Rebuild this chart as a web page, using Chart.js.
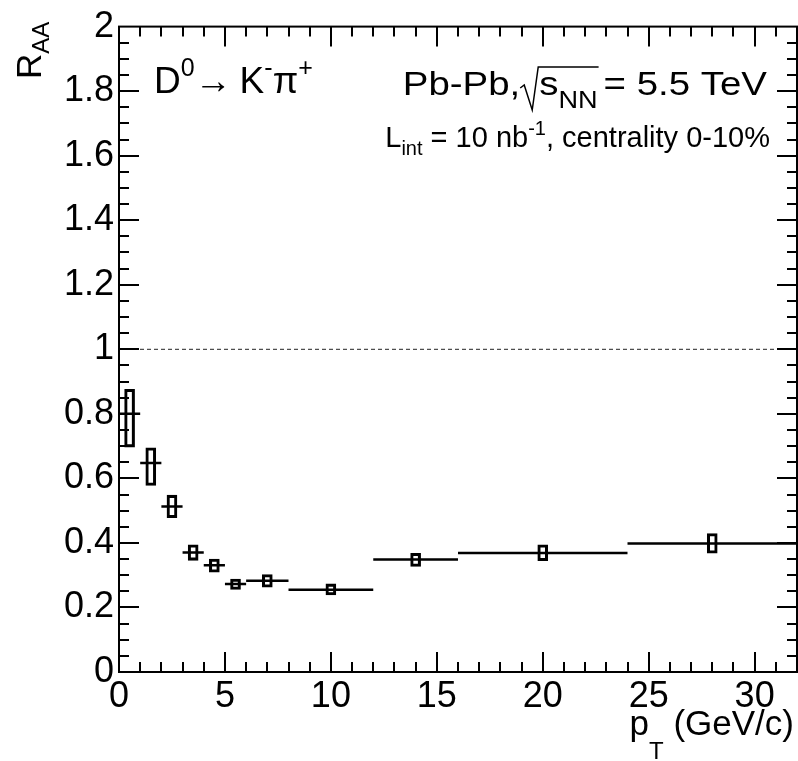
<!DOCTYPE html>
<html>
<head>
<meta charset="utf-8">
<script src="https://cdn.jsdelivr.net/npm/chart.js"></script>
<style>
  html, body { margin: 0; padding: 0; background: #fff; }
  #wrap { width: 798px; height: 761px; position: relative; }
</style>
</head>
<body>
<div id="wrap"><canvas id="raaChart"></canvas></div>
<script>
'use strict';

// D0 -> K pi, R_AA vs pT
var binLo    = [0, 1, 2, 3, 4, 5, 6, 8, 12, 16, 24];
var binHi    = [1, 2, 3, 4, 5, 6, 8, 12, 16, 24, 32];
var ptCenter = [0.5, 1.5, 2.5, 3.5, 4.5, 5.5, 7, 10, 14, 20, 28];
var raa      = [0.80, 0.648, 0.513, 0.370, 0.331, 0.273, 0.283, 0.255, 0.349, 0.369, 0.398];
var sysLo    = [0.697, 0.578, 0.478, 0.346, 0.309, 0.256, 0.263, 0.239, 0.327, 0.345, 0.368];
var sysHi    = [0.876, 0.695, 0.548, 0.394, 0.350, 0.288, 0.302, 0.273, 0.368, 0.394, 0.429];
var refLine  = [1, 1];
var xRange   = [0, 32];
var yRange   = [0, 2];

var FONT = '"Liberation Sans", Arial, Helvetica, sans-serif';

var boxData = ptCenter.map(function (x, i) { return { x: x, y: [sysLo[i], sysHi[i]] }; });
var binData = [];
for (var i = 0; i < raa.length; i++) {
    binData.push({ x: binLo[i], y: raa[i] });
    binData.push({ x: binHi[i], y: raa[i] });
    binData.push({ x: binHi[i], y: null });
}
var refData = [{ x: xRange[0], y: refLine[0] }, { x: xRange[1], y: refLine[1] }];

// draw a row of text pieces (sub/superscripts), sx = horizontal stretch
function drawRuns(ctx, x, y, runs, align, sx) {
    sx = sx || 1;
    var total = 0, widths = [];
    runs.forEach(function (r) {
        var w;
        if (r.gap) { w = r.gap; }
        else { ctx.font = r.size + 'px ' + FONT; w = ctx.measureText(r.t).width * sx; }
        widths.push(w);
        total += w;
    });
    var cx = align === 'right' ? x - total : x;
    var pos = [];
    runs.forEach(function (r, k) {
        pos.push(cx);
        if (!r.gap) {
            ctx.save();
            ctx.font = r.size + 'px ' + FONT;
            ctx.translate(cx, y + (r.dy || 0));
            ctx.scale(sx, 1);
            ctx.fillText(r.t, 0, 0);
            ctx.restore();
        }
        cx += widths[k];
    });
    pos.push(cx);
    return pos;
}

var rootFrame = {
    id: 'rootFrame',
    afterDraw: function (chart) {
        var ctx = chart.ctx, a = chart.chartArea;
        var xs = chart.scales.x, ys = chart.scales.y;
        ctx.save();
        ctx.strokeStyle = '#000';
        ctx.fillStyle = '#000';
        ctx.lineWidth = 2;
        ctx.strokeRect(a.left, a.top, a.right - a.left, a.bottom - a.top);

        ctx.beginPath();
        for (var v = 1; v < 32; v++) {
            var len = v % 5 === 0 ? 20 : 10;
            var px = Math.round(xs.getPixelForValue(v));
            ctx.moveTo(px, a.bottom); ctx.lineTo(px, a.bottom - len);
            ctx.moveTo(px, a.top); ctx.lineTo(px, a.top + len);
        }
        for (var j = 1; j < 40; j++) {
            var lenY = j % 4 === 0 ? 20 : 10;
            var py = Math.round(ys.getPixelForValue(j * 0.05));
            ctx.moveTo(a.left, py); ctx.lineTo(a.left + lenY, py);
            ctx.moveTo(a.right, py); ctx.lineTo(a.right - lenY, py);
        }
        ctx.stroke();

        ctx.textBaseline = 'alphabetic';
        ctx.textAlign = 'left';

        // decay channel
        drawRuns(ctx, 154, 93, [
            { t: 'D', size: 37 },
            { t: '0', size: 25, dy: -17 },
            { t: '\u2192', size: 37 },
            { gap: 8 },
            { t: 'K', size: 37 },
            { t: '-', size: 25, dy: -17 },
            { t: '\u03c0', size: 37 },
            { t: '+', size: 25, dy: -17 }
        ]);

        // system and energy
        var p = drawRuns(ctx, 767, 95, [
            { t: 'Pb-Pb,', size: 34 },
            { gap: 19 },
            { t: 's', size: 34 },
            { t: 'NN', size: 24, dy: 13 },
            { gap: 6 },
            { t: '= 5.5 TeV', size: 34 }
        ], 'right', 1.13);
        ctx.lineWidth = 1.5;
        ctx.beginPath();
        ctx.moveTo(p[1] + 0, 88);
        ctx.lineTo(p[1] + 4, 85);
        ctx.lineTo(p[1] + 12, 110);
        ctx.lineTo(p[1] + 18, 67);
        ctx.lineTo(p[4] + 1, 67);
        ctx.stroke();

        drawRuns(ctx, 770, 147, [
            { t: 'L', size: 29 },
            { t: 'int', size: 20, dy: 8 },
            { t: ' = 10 nb', size: 29 },
            { t: '-1', size: 20, dy: -12 },
            { t: ', centrality 0-10%', size: 29 }
        ], 'right', 1.0);

        // axis titles
        drawRuns(ctx, 794, 735, [
            { t: 'p', size: 35 },
            { t: 'T', size: 24, dy: 24 },
            { t: ' (GeV/c)', size: 35 }
        ], 'right');

        ctx.save();
        ctx.translate(41, 79);
        ctx.rotate(-Math.PI / 2);
        drawRuns(ctx, 0, 0, [
            { t: 'R', size: 35 },
            { t: 'AA', size: 24, dy: 8 }
        ]);
        ctx.restore();

        ctx.restore();
    }
};

new Chart(document.getElementById('raaChart'), {
    type: 'bar',
    data: {
        datasets: [
            {
                type: 'line',
                label: 'bins',
                data: binData,
                borderColor: '#000',
                borderWidth: 2.5,
                pointRadius: 0,
                spanGaps: false,
                fill: false
            },
            {
                label: 'syst',
                data: boxData,
                backgroundColor: 'rgba(0,0,0,0)',
                borderColor: '#000',
                borderWidth: 2.4,
                borderSkipped: false,
                barThickness: 10,
                grouped: false
            },
            {
                type: 'line',
                label: 'ref',
                data: refData,
                borderColor: '#222',
                borderWidth: 1,
                borderDash: [4, 3],
                pointRadius: 0,
                fill: false
            }
        ]
    },
    options: {
        responsive: true,
        maintainAspectRatio: false,
        animation: false,
        layout: { padding: { top: 18, right: 1, left: 0, bottom: 0 } },
        plugins: { legend: { display: false }, tooltip: { enabled: false } },
        scales: {
            x: {
                type: 'linear',
                min: xRange[0],
                max: xRange[1],
                offset: false,
                grid: { display: false, drawTicks: false },
                border: { display: false },
                ticks: {
                    stepSize: 5,
                    includeBounds: false,
                    autoSkip: false,
                    maxRotation: 0,
                    padding: 3,
                    color: '#000',
                    font: { family: FONT, size: 36 }
                },
                afterFit: function (s) { s.height = 89; }
            },
            y: {
                min: yRange[0],
                max: yRange[1],
                grid: { display: false, drawTicks: false },
                border: { display: false },
                ticks: {
                    stepSize: 0.2,
                    padding: 5,
                    color: '#000',
                    font: { family: FONT, size: 36 },
                    callback: function (v) { return String(Math.round(v * 10) / 10); }
                },
                afterFit: function (s) { s.width = 119; }
            }
        }
    },
    plugins: [rootFrame]
});
</script>
</body>
</html>
